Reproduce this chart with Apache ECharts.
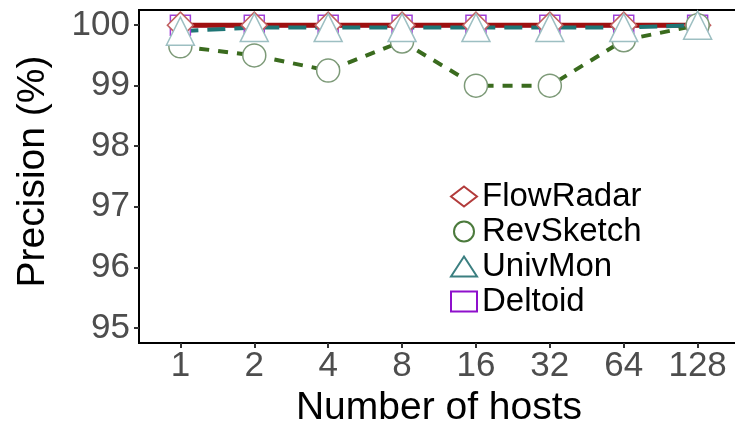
<!DOCTYPE html>
<html lang="en">
<head>
  <meta charset="UTF-8">
  <title>Precision vs number of hosts</title>
  <script src="https://cdn.jsdelivr.net/npm/echarts@6/dist/echarts.min.js"></script>
  <style>
    html, body { margin: 0; padding: 0; background: #fff; }
    #chart { width: 735px; height: 424px; }
  </style>
</head>
<body>
  <div id="chart"></div>
  <script>
    var hosts = ['1', '2', '4', '8', '16', '32', '64', '128'];
    var yTicks = [95, 96, 97, 98, 99, 100];
    var flowRadar = [100, 100, 100, 100, 100, 100, 100, 100];
    var revSketch = [99.65, 99.5, 99.25, 99.73, 99.0, 99.0, 99.75, 100];
    var univMon = [99.9, 99.96, 99.96, 99.96, 99.96, 99.96, 99.96, 100];
    var deltoid = [100, 100, 100, 100, 100, 100, 100, 100];

    function pts(arr) {
      var out = [];
      for (var i = 0; i < arr.length; i++) {
        out.push([i, arr[i]]);
      }
      return out;
    }

    var font = 'Liberation Sans, Arial, Helvetica, sans-serif';
    var oChart = echarts.init(document.getElementById('chart'));

    var opt = {
      animation: false,
      grid: {
        left: 139,
        top: 10,
        width: 600,
        height: 333,
        outerBoundsMode: 'none',
        containLabel: false,
        show: true,
        borderColor: '#000',
        borderWidth: 2
      },
      legend: {
        orient: 'vertical',
        left: 445,
        top: 175,
        itemWidth: 26,
        itemHeight: 20,
        itemGap: 2,
        textStyle: { fontFamily: font, fontSize: 33, lineHeight: 33, color: '#000' },
        data: [
          { name: 'FlowRadar', icon: 'diamond', itemStyle: { color: '#fff', borderColor: '#b23b3b', borderWidth: 2 } },
          { name: 'RevSketch', icon: 'circle', itemStyle: { color: '#fff', borderColor: '#4b7a3c', borderWidth: 2 } },
          { name: 'UnivMon', icon: 'triangle', itemStyle: { color: '#fff', borderColor: '#3b7f80', borderWidth: 2 } },
          { name: 'Deltoid', icon: 'rect', itemStyle: { color: '#fff', borderColor: '#8f10cc', borderWidth: 2 } }
        ]
      },
      xAxis: {
        type: 'value',
        min: -0.56,
        max: 7.56,
        name: 'Number of hosts',
        nameLocation: 'middle',
        nameGap: 42,
        nameTextStyle: { fontFamily: font, fontSize: 39, color: '#000' },
        splitLine: { show: false },
        axisLine: { show: true, onZero: false, lineStyle: { color: '#000', width: 2 } },
        axisTick: { show: true, length: 5, customValues: [0, 1, 2, 3, 4, 5, 6, 7], lineStyle: { color: '#333', width: 2 } },
        axisLabel: {
          customValues: [0, 1, 2, 3, 4, 5, 6, 7],
          formatter: function (v) { return hosts[Math.round(v)]; },
          fontFamily: font,
          fontSize: 35,
          color: '#4d4d4d',
          margin: 6
        }
      },
      yAxis: {
        type: 'value',
        min: 94.75,
        max: 100.25,
        name: 'Precision (%)',
        nameLocation: 'middle',
        nameRotate: 90,
        nameGap: 86,
        nameTextStyle: { fontFamily: font, fontSize: 39, color: '#000', padding: [0, 0, 0, 10] },
        splitLine: { show: false },
        axisLine: { show: true, onZero: false, lineStyle: { color: '#000', width: 2 } },
        axisTick: { show: true, length: 5, customValues: yTicks, lineStyle: { color: '#333', width: 2 } },
        axisLabel: {
          customValues: yTicks,
          fontFamily: font,
          fontSize: 35,
          color: '#4d4d4d',
          margin: 9
        }
      },
      series: [
        {
          name: 'Deltoid',
          type: 'line',
          data: pts(deltoid),
          symbol: 'rect',
          symbolSize: 20,
          lineStyle: { color: '#8f10cc', width: 4 },
          itemStyle: { color: '#fff', borderColor: '#a040d8', borderWidth: 1.5 }
        },
        {
          name: 'FlowRadar',
          type: 'line',
          data: pts(flowRadar),
          symbol: 'diamond',
          symbolSize: 26,
          lineStyle: { color: '#9e1010', width: 5 },
          itemStyle: { color: '#fff', borderColor: '#c06060', borderWidth: 1.5 }
        },
        {
          name: 'RevSketch',
          type: 'line',
          data: pts(revSketch),
          symbol: 'circle',
          symbolSize: 23,
          lineStyle: { color: '#3a6b1e', width: 4, type: [10, 9] },
          itemStyle: { color: '#fff', borderColor: '#7d9a78', borderWidth: 1.5 }
        },
        {
          name: 'UnivMon',
          type: 'line',
          data: pts(univMon),
          symbol: 'triangle',
          symbolSize: [28, 28],
          lineStyle: { color: '#1e7575', width: 4, type: [18, 9] },
          itemStyle: { color: '#fff', borderColor: '#9dbfc2', borderWidth: 1.5 }
        }
      ]
    };

    oChart.setOption(opt);
  </script>
</body>
</html>
